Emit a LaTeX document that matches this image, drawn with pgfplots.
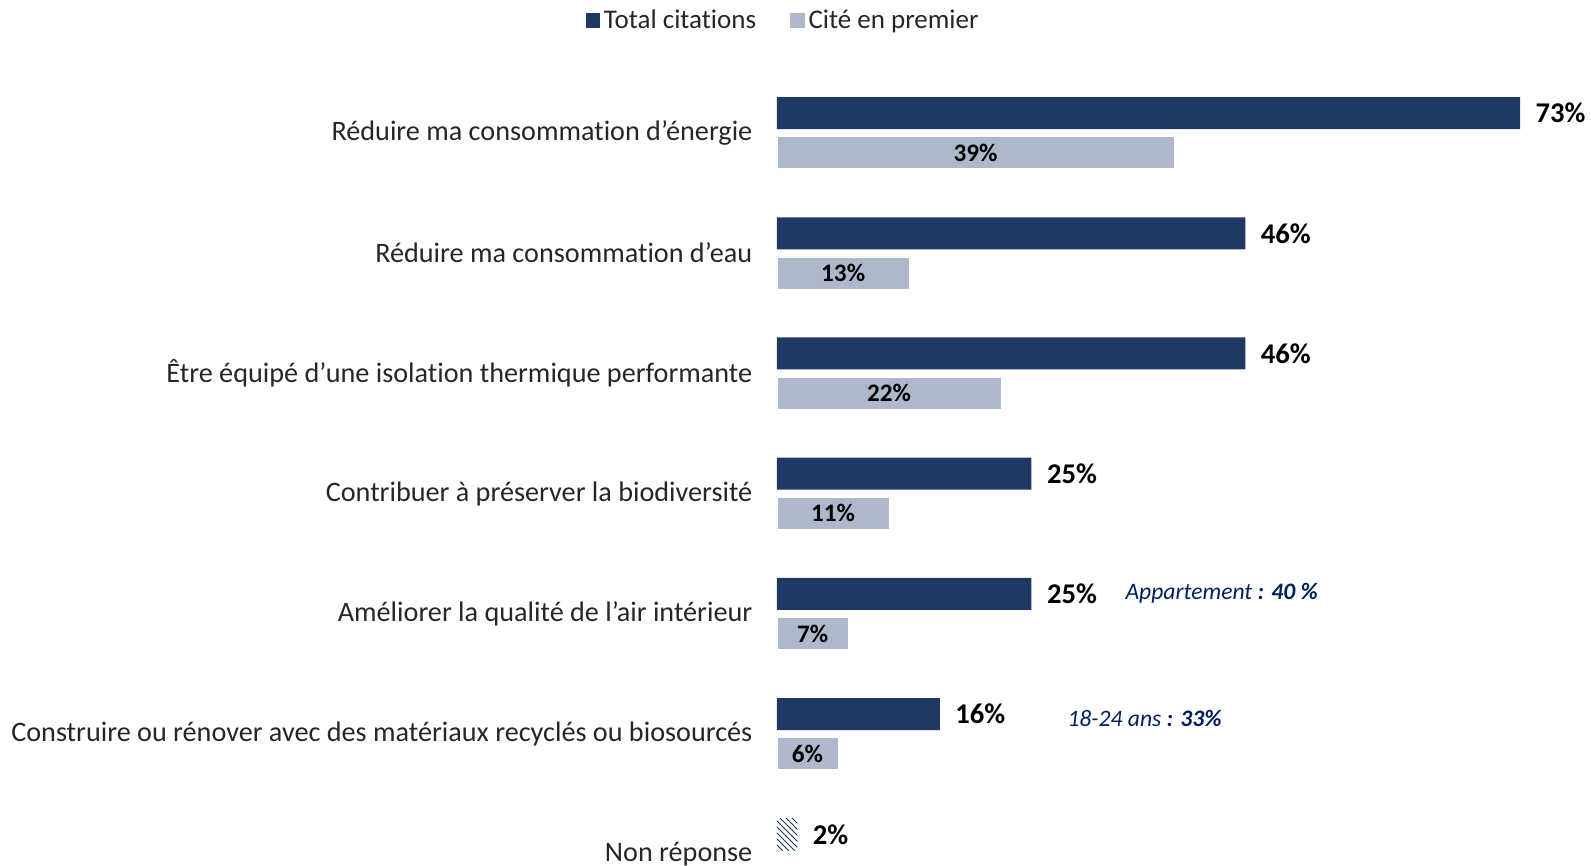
\documentclass[border=0pt]{standalone}
\usepackage{fontspec}
\setmainfont{Carlito}[Ligatures=NoCommon]
\usepackage{pgfplots}
\pgfplotsset{compat=1.18}
\usetikzlibrary{patterns}
\definecolor{darkbar}{HTML}{203864}
\definecolor{lightbar}{HTML}{ADB9CA}
\definecolor{note}{HTML}{002060}

\begin{document}
\begin{tikzpicture}
% picture is 1591 x 866 px, 1 px = 0.5pt
\useasboundingbox (0,0) rectangle (795.5pt,-433pt);
\begin{axis}[
    at={(388.5pt,-457.1pt)}, anchor=south west,
    scale only axis, width=407.2pt, height=450.75pt,
    xmin=0, xmax=80, ymin=-1, ymax=6.5, y dir=reverse,
    xbar, bar width=0.266, clip=false,
    axis line style={draw=none}, tick style={draw=none},
    xtick=\empty,
    ytick={0,1,2,3,4,5,6},
    yticklabels={R\'eduire ma consommation d’énergie,
                 R\'eduire ma consommation d’eau,
                 \^Etre équipé d’une isolation thermique performante,
                 Contribuer à préserver la biodiversité,
                 Améliorer la qualité de l’air intérieur,
                 Construire ou rénover avec des matériaux recyclés ou biosourcés,
                 Non réponse},
    yticklabel style={font=\fontsize{14.1}{16}\selectfont, text=black!85, inner sep=0pt, xshift=-7.9pt},
    point meta=x,
    /pgf/number format/assume math mode=true,
    legend style={at={(0.0086,0.9915)}, anchor=center, draw=none, fill=none,
        legend columns=2, font=\fontsize{13.5}{15}\selectfont, text=black!85,
        /tikz/every even column/.append style={column sep=15pt}},
]
\addplot[forget plot, fill=darkbar, draw=none, bar shift=-0.165,
    nodes near coords={\pgfmathprintnumber{\pgfplotspointmeta}\%},
    every node near coord/.append style={font=\bfseries\fontsize{14.3}{16}\selectfont,
        text=black, anchor=west, inner sep=0pt, xshift=7.6pt}]
coordinates {(73,0) (46,1) (46,2) (25,3) (25,4) (16,5)};

\addplot[forget plot, fill=lightbar, draw=white, line width=0.4pt, bar shift=0.165,
    visualization depends on=rawx \as \rawx,
    nodes near coords={\pgfmathprintnumber{\pgfplotspointmeta}\%},
    every node near coord/.append style={font=\bfseries\fontsize{12.6}{14}\selectfont,
        text=black, anchor=center, inner sep=0pt, xshift=-\rawx*2.545pt}]
coordinates {(39,0) (13,1) (22,2) (11,3) (7,4) (6,5)};

\addplot[forget plot, pattern=north west lines, pattern color=darkbar, draw=none, bar shift=-0.165,
    nodes near coords={\pgfmathprintnumber{\pgfplotspointmeta}\%},
    every node near coord/.append style={font=\bfseries\fontsize{14.3}{16}\selectfont,
        text=black, anchor=west, inner sep=0pt, xshift=7.6pt}]
coordinates {(2,6)};

\addlegendimage{legend image code/.code={\fill[darkbar] (-1.7pt,-3.4pt) rectangle (5.1pt,3.4pt);}}
\addlegendentry{Total citations}
\addlegendimage{legend image code/.code={\fill[lightbar] (-1.7pt,-3.4pt) rectangle (5.1pt,3.4pt);}}
\addlegendentry{Cité en premier}

\node[anchor=west, inner sep=0pt, text=note, font=\itshape\fontsize{11.8}{13}\selectfont]
    at (axis cs:34.2,3.83) {Appartement\textbf{ : 40 \%}};
\node[anchor=west, inner sep=0pt, text=note, font=\itshape\fontsize{11.8}{13}\selectfont]
    at (axis cs:28.5,4.875) {18-24 ans\textbf{ : 33\%}};
\end{axis}
\end{tikzpicture}
\end{document}
